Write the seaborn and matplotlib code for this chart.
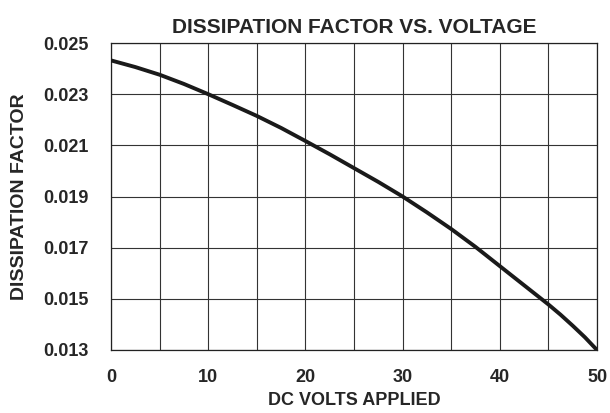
import matplotlib
matplotlib.use('Agg')
import matplotlib.pyplot as plt
import numpy as np
import pandas as pd
import seaborn as sns

sns.set_style('white')
plt.rcParams['font.family'] = ['Liberation Sans', 'DejaVu Sans']

# values
volts = [0, 2.5, 5, 7.5, 10, 12.5, 15, 17.5, 20, 22.5, 25,
         27.5, 30, 32.5, 35, 37.5, 40, 42.5, 45, 46.25, 47.5, 48.75, 50]
dissipation = [0.02432, 0.02406, 0.02376, 0.02340, 0.02300, 0.02258,
               0.02215, 0.02168, 0.02117, 0.02065, 0.02011, 0.01957,
               0.01900, 0.01838, 0.01773, 0.01703, 0.01628, 0.01553,
               0.01478, 0.01438, 0.01395, 0.01350, 0.01300]
x_ticks = [0, 10, 20, 30, 40, 50]
x_minor = [5, 15, 25, 35, 45]
y_ticks = [0.013, 0.015, 0.017, 0.019, 0.021, 0.023, 0.025]

df = pd.DataFrame({'volts': volts, 'df': dissipation})

fig = plt.figure(figsize=(6.1, 4.13), dpi=100)
ax = fig.add_axes([111 / 610, 1 - 350 / 413, 486 / 610, 307 / 413])

sns.lineplot(data=df, x='volts', y='df', ax=ax, color='#1a1a1a',
             linewidth=2.8, zorder=3)

ax.set_xlim(0, 50)
ax.set_ylim(0.013, 0.025)
ax.set_xticks(x_ticks)
ax.set_xticks(x_minor, minor=True)
ax.set_yticks(y_ticks)
ax.set_yticklabels(['%.3f' % v for v in y_ticks])
ax.grid(True, which='both', color='#333333', linewidth=0.8)
ax.tick_params(which='both', length=0)
ax.tick_params(axis='x', pad=14, labelsize=13)
ax.tick_params(axis='y', pad=16, labelsize=13)
for lab in ax.get_xticklabels() + ax.get_yticklabels():
    lab.set_fontweight('bold')
for s in ax.spines.values():
    s.set_color('#222222')
    s.set_linewidth(0.9)

ax.set_xlabel('DC VOLTS APPLIED', fontsize=13, fontweight='bold', labelpad=4)
ax.set_ylabel('DISSIPATION FACTOR', fontsize=14, fontweight='bold', labelpad=11)
ax.set_title('DISSIPATION FACTOR VS. VOLTAGE', fontsize=15, fontweight='bold', pad=7)

fig.savefig('out.png', dpi=100)
